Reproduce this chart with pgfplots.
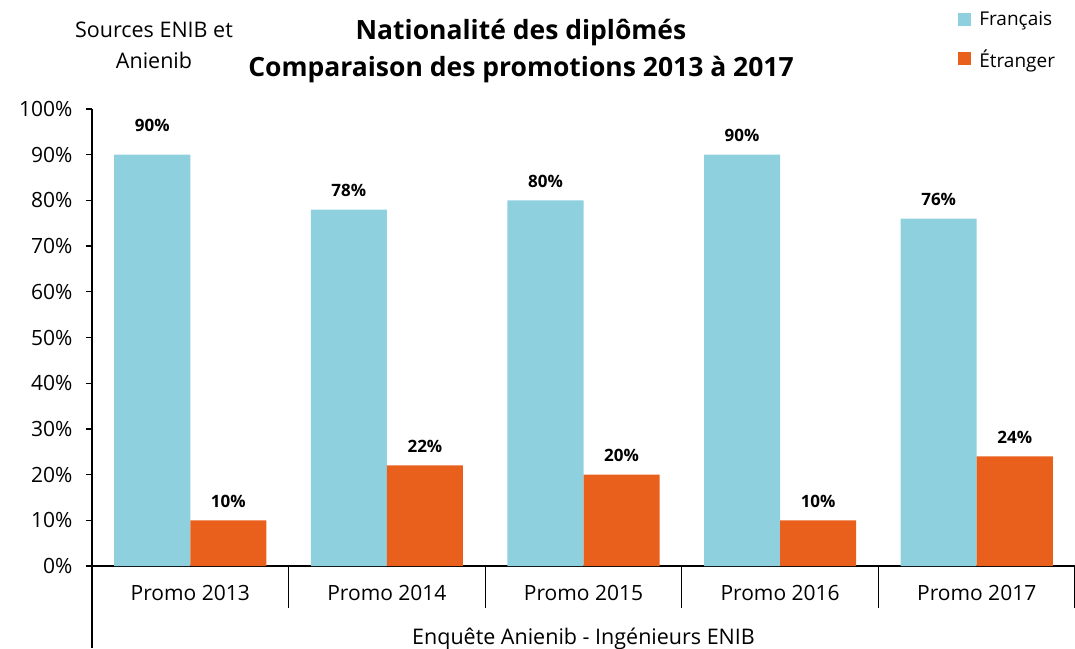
\documentclass[border=0pt]{standalone}
\usepackage{fontspec}
\setmainfont{Open Sans}
\usepackage{pgfplots}
\pgfplotsset{compat=1.18}
\definecolor{cfr}{RGB}{143,208,222}
\definecolor{cet}{RGB}{233,96,28}
\begin{document}
\begin{tikzpicture}[x=1pt,y=1pt]
\begin{axis}[
  at={(92pt,82pt)}, anchor=south west,
  scale only axis, width=983pt, height=457pt,
  xmin=-0.5, xmax=4.5, ymin=0, ymax=100,
  /pgf/number format/assume math mode=true,
  axis x line*=bottom, axis y line*=left,
  axis line style={black, line width=1.2pt, -},
  ytick={0,10,...,100},
  yticklabel={\pgfmathprintnumber{\tick}\%},
  yticklabel style={font=\fontsize{21}{24}\selectfont, xshift=-10pt},
  ytick style={black, line width=1.2pt},
  tick align=outside, major tick length=6pt,
  xtick={-0.5,0.5,1.5,2.5,3.5,4.5},
  x tick label as interval,
  xticklabels={Promo 2013,Promo 2014,Promo 2015,Promo 2016,Promo 2017},
  xticklabel style={font=\fontsize{21}{24}\selectfont, yshift=-10pt},
  xtick style={black, line width=1.2pt, /pgfplots/major tick length=42pt},
  xlabel={Enquête Anienib - Ingénieurs ENIB},
  xlabel style={font=\fontsize{21.5}{24}\selectfont, at={(axis description cs:0.5,0)}, anchor=center, yshift=-73pt},
  ybar, bar width=0.387,
  point meta=explicit,
  nodes near coords={\pgfmathprintnumber{\pgfplotspointmeta}\%},
  visualization depends on={\thisrow{off} \as \off},
  every node near coord/.append style={font=\bfseries\fontsize{17}{20}\selectfont, black, yshift=\off pt},
  legend style={at={(axis description cs:0.878,1.226)}, anchor=north west, draw=none, fill=none,
    font=\fontsize{19}{22}\selectfont, row sep=14pt},
  legend cell align=left,
  legend image code/.code={\fill[#1] (0pt,-6pt) rectangle (13pt,7pt);},
  legend style={/tikz/every even column/.append style={column sep=0pt}, nodes={inner sep=4pt}},
]
\addplot[fill=cfr, draw=none, bar shift=-0.1935] table[meta=y] {
x y off
0 90 19
1 78 9
2 80 9
3 90 9
4 76 9
};
\addplot[fill=cet, draw=none, bar shift=0.1935] table[meta=y] {
x y off
0 10 9
1 22 9
2 20 9
3 10 9
4 24 9
};
\legend{\hspace{4pt}Français,\hspace{4pt}Étranger}
\end{axis}
\draw[line width=1.2pt] (92,82) -- (92,0);
\node[font=\bfseries\fontsize{26.5}{30}\selectfont] at (521,615) {Nationalité des diplômés};
\node[font=\bfseries\fontsize{26.5}{30}\selectfont] at (521,578) {Comparaison des promotions 2013 à 2017};
\node[font=\fontsize{21.5}{24}\selectfont] at (154,618) {Sources ENIB et};
\node[font=\fontsize{21.5}{24}\selectfont] at (154,588) {Anienib};
\pgfresetboundingbox
\useasboundingbox (0,0) rectangle (1075,648);
\end{tikzpicture}
\end{document}
